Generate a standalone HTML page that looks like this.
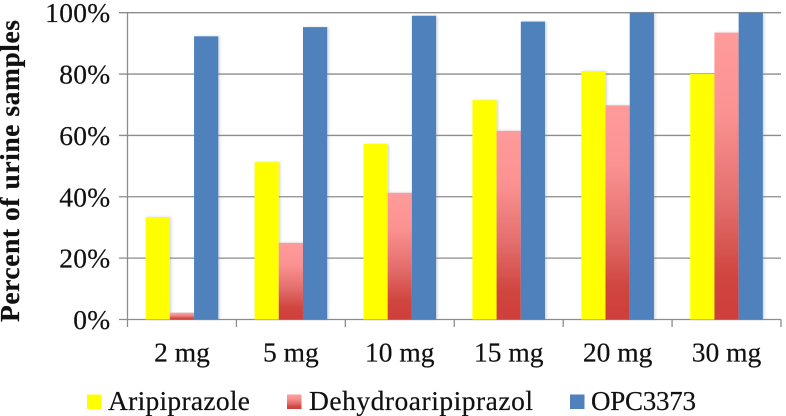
<!DOCTYPE html>
<html lang="en">
<head>
<meta charset="utf-8">
<title>Percent of urine samples by dose</title>
<style>
html,body{margin:0;padding:0;background:#fff;width:786px;height:416px;overflow:hidden}
svg{display:block;filter:blur(0.35px)}
text{font-family:"Liberation Serif",serif;fill:#111;stroke:#111;stroke-width:0.2px}
</style>
</head>
<body>
<svg id="chart" width="786" height="416" viewBox="0 0 786 416" xmlns="http://www.w3.org/2000/svg">
<defs>
<linearGradient id="red-grad" x1="0" y1="0" x2="0" y2="1">
<stop offset="0" stop-color="#ff9b9b"/>
<stop offset="0.28" stop-color="#fb9292"/>
<stop offset="0.6" stop-color="#e26d6b"/>
<stop offset="0.85" stop-color="#d0453f"/>
<stop offset="1" stop-color="#cf3f3c"/>
</linearGradient>
<filter id="bar-shadow" x="-20%" y="-5%" width="140%" height="110%">
<feDropShadow dx="1.5" dy="0" stdDeviation="1.2" flood-color="#7f8fa8" flood-opacity="0.35"/>
</filter>
</defs>
<g id="grid"></g>
<g id="bars"></g>
<g id="axes"></g>
<text transform="translate(19,322) rotate(-90)" font-size="27.5" font-weight="700" textLength="302" lengthAdjust="spacing">Percent of urine samples</text>
<g>
<g>
<rect x="87" y="394.5" width="14.5" height="14.5" fill="#ffff00"/>
<text x="108" y="410" font-size="27.5" textLength="142" lengthAdjust="spacing">Aripiprazole</text>
</g>
<g>
<rect x="287" y="394.5" width="14.5" height="14.5" fill="url(#red-grad)"/>
<text x="309" y="410" font-size="27.5" textLength="224" lengthAdjust="spacing">Dehydroaripiprazol</text>
</g>
<g>
<rect x="570" y="394.5" width="14.5" height="14.5" fill="#4f81bd"/>
<text x="591" y="410" font-size="27" textLength="105" lengthAdjust="spacing">OPC3373</text>
</g>
</g>
</svg>
<script>
const categories = ['2 mg', '5 mg', '10 mg', '15 mg', '20 mg', '30 mg'];
const aripiprazole = [33.4, 51.3, 57.2, 71.5, 81, 80];
const dehydroaripiprazol = [2.2, 25, 41.3, 61.5, 69.8, 93.5];
const opc3373 = [92.3, 95.3, 99, 97.1, 100, 100];
const yTicks = [0, 20, 40, 60, 80, 100];

const NS = 'http://www.w3.org/2000/svg';
const plotLeft = 127.5, plotRight = 781, plotTop = 12.7, plotBottom = 319.5;
const bandWidth = (plotRight - plotLeft) / categories.length;
const barWidth = bandWidth / 4.5;
function xBand(i) { return plotLeft + i * bandWidth; }
function yScale(v) { return plotBottom - (v / 100) * (plotBottom - plotTop); }
function make(tag, attrs, parent) {
  const el = document.createElementNS(NS, tag);
  for (const k in attrs) el.setAttribute(k, attrs[k]);
  parent.appendChild(el);
  return el;
}
const gridG = document.getElementById('grid');
const axesG = document.getElementById('axes');
const barsG = document.getElementById('bars');

yTicks.forEach(function (t) {
  const y = yScale(t);
  const line = make('line', { x1: 119, x2: plotRight, y1: y, y2: y, stroke: '#8c8c8c', 'stroke-width': 1.3 }, gridG);
  
  
  const label = make('text', { x: 110.5, y: y + 9.5, 'font-size': 27.5, 'text-anchor': 'end', 'letter-spacing': 0.3 }, axesG);
  
  
  label.textContent = t + '%';
});

const seriesList = [
  { key: 'aripiprazole', values: aripiprazole, fill: '#ffff00' },
  { key: 'dehydroaripiprazol', values: dehydroaripiprazol, fill: 'url(#red-grad)' },
  { key: 'opc3373', values: opc3373, fill: '#4f81bd' }
];
seriesList.forEach(function (s, si) {
  s.values.forEach(function (v, i) {
    const x = xBand(i) + barWidth * 0.75 + si * barWidth;
    const y = yScale(v);
    const bar = make('rect', { x: x, y: y, width: barWidth, height: plotBottom - y, fill: s.fill, filter: 'url(#bar-shadow)' }, barsG);
    
    
  });
});

const yAxis = make('line', { x1: plotLeft, x2: plotLeft, y1: plotTop, y2: 327, stroke: '#8c8c8c', 'stroke-width': 1.3 }, axesG);



categories.forEach(function (c, i) {
  const tick = make('line', { x1: xBand(i + 1), x2: xBand(i + 1), y1: plotBottom, y2: 327, stroke: '#8c8c8c', 'stroke-width': 1.3 }, axesG);
  
  
  const label = make('text', { x: xBand(i) + bandWidth / 2, y: 361.5, 'font-size': 27.5, 'text-anchor': 'middle' }, axesG);
  
  
  label.textContent = c;
});
</script>
</body>
</html>
